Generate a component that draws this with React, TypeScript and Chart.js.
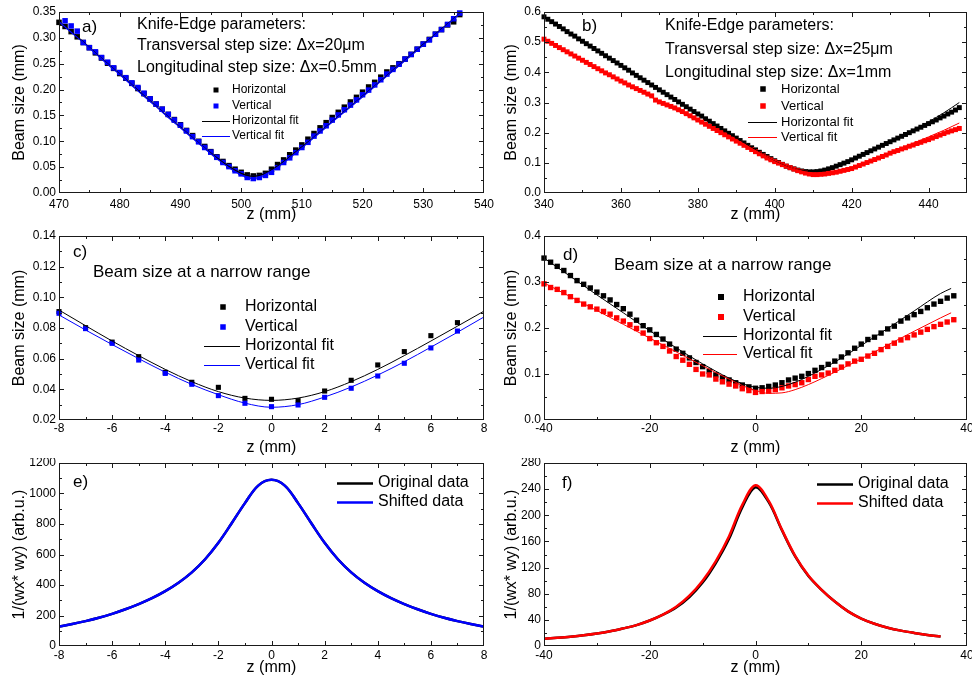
import React, { useEffect, useRef } from 'react';
import { Chart, registerables } from 'chart.js';

Chart.register(...registerables);

const FONT = "'Liberation Sans', Arial, Helvetica, sans-serif";
const BLACK = '#000000';
const BLUE = '#0000ff';
const RED = '#ff0000';

// ---------------- Panel a ----------------
const aZ = [470,471,472,473,474,475,476,477,478,479,480,481,482,483,484,485,486,487,488,489,490,491,492,493,494,495,496,497,498,499,500,501,502,503,504,505,506,507,508,509,510,511,512,513,514,515,516,517,518,519,520,521,522,523,524,525,526,527,528,529,530,531,532,533,534,535,536];
const aHorizontal = [0.330,0.322,0.312,0.302,0.291,0.281,0.271,0.261,0.251,0.241,0.231,0.222,0.212,0.202,0.192,0.182,0.172,0.162,0.152,0.142,0.132,0.121,0.111,0.100,0.090,0.080,0.070,0.061,0.053,0.046,0.040,0.035,0.033,0.034,0.038,0.046,0.055,0.064,0.074,0.083,0.093,0.104,0.115,0.126,0.136,0.146,0.156,0.166,0.176,0.185,0.195,0.205,0.214,0.224,0.234,0.242,0.250,0.259,0.268,0.278,0.288,0.297,0.307,0.316,0.325,0.331,0.345];
const aVertical = [null,0.333,0.323,0.313,0.291,0.281,0.273,0.262,0.253,0.242,0.233,0.223,0.213,0.204,0.193,0.182,0.172,0.162,0.152,0.141,0.131,0.120,0.109,0.099,0.088,0.079,0.069,0.059,0.051,0.043,0.037,0.030,0.028,0.030,0.034,0.040,0.049,0.059,0.068,0.078,0.088,0.098,0.110,0.120,0.130,0.141,0.151,0.161,0.170,0.180,0.190,0.199,0.209,0.219,0.230,0.239,0.249,0.259,0.268,0.278,0.288,0.296,0.307,0.316,0.326,0.337,0.348];
const aFitZ = [470,472,474,476,478,480,482,484,486,488,490,492,494,496,498,500,501,502,503,504,506,508,510,512,514,516,518,520,522,524,526,528,530,532,534,536,538];
const aHorizontalFit = [0.332,0.312,0.292,0.271,0.250,0.230,0.209,0.188,0.168,0.147,0.127,0.107,0.087,0.068,0.051,0.038,0.034,0.032,0.034,0.038,0.052,0.070,0.089,0.108,0.128,0.148,0.167,0.187,0.207,0.227,0.247,0.267,0.287,0.307,0.327,0.347,0.367];
const aVerticalFit = [0.331,0.311,0.291,0.270,0.249,0.229,0.208,0.187,0.167,0.146,0.126,0.106,0.086,0.066,0.049,0.035,0.030,0.028,0.030,0.036,0.050,0.068,0.087,0.107,0.127,0.147,0.166,0.186,0.206,0.226,0.246,0.266,0.286,0.306,0.326,0.346,0.366];
const aXTicks = [470,480,490,500,510,520,530,540];
const aYTicks = [0,0.05,0.1,0.15,0.2,0.25,0.3,0.35];

// ---------------- Panel b ----------------
const bZ = [340,341,342,343,344,345,346,347,348,349,350,351,352,353,354,355,356,357,358,359,360,361,362,363,364,365,366,367,368,369,370,371,372,373,374,375,376,377,378,379,380,381,382,383,384,385,386,387,388,389,390,391,392,393,394,395,396,397,398,399,400,401,402,403,404,405,406,407,408,409,410,411,412,413,414,415,416,417,418,419,420,421,422,423,424,425,426,427,428,429,430,431,432,433,434,435,436,437,438,439,440,441,442,443,444,445,446,447,448];
const bHorizontal = [
  0.584,0.576,0.568,0.560,0.552,0.544,0.535,0.527,0.520,0.511,
  0.503,0.495,0.487,0.479,0.471,0.463,0.455,0.447,0.439,0.431,
  0.423,0.415,0.407,0.398,0.390,0.382,0.374,0.366,0.358,0.350,
  0.342,0.334,0.326,0.318,0.310,0.302,0.294,0.286,0.278,0.270,
  0.262,0.255,0.246,0.238,0.230,0.222,0.214,0.206,0.198,0.190,
  0.182,0.174,0.166,0.158,0.150,0.143,0.135,0.128,0.121,0.114,
  0.107,0.101,0.095,0.089,0.084,0.080,0.076,0.073,0.071,0.070,
  0.070,0.071,0.073,0.076,0.080,0.084,0.089,0.094,0.099,0.104,
  0.110,0.116,0.122,0.128,0.134,0.140,0.146,0.152,0.158,0.164,
  0.170,0.176,0.182,0.188,0.194,0.200,0.206,0.212,0.218,0.224,
  0.230,0.236,0.242,0.249,0.255,0.262,0.268,0.275,0.283];
const bVertical = [
  0.510,0.503,0.496,0.489,0.482,0.475,0.468,0.461,0.454,0.447,
  0.440,0.433,0.426,0.419,0.412,0.405,0.398,0.392,0.385,0.378,
  0.371,0.365,0.358,0.352,0.346,0.340,0.334,0.328,0.322,0.308,
  0.302,0.297,0.292,0.287,0.282,0.276,0.270,0.263,0.256,0.249,
  0.242,0.235,0.228,0.221,0.214,0.207,0.200,0.193,0.186,0.179,
  0.172,0.165,0.158,0.151,0.144,0.137,0.130,0.123,0.116,0.110,
  0.104,0.099,0.094,0.089,0.084,0.079,0.074,0.070,0.066,0.063,
  0.061,0.061,0.062,0.063,0.065,0.067,0.069,0.072,0.075,0.078,
  0.081,0.086,0.091,0.096,0.101,0.106,0.111,0.116,0.121,0.126,
  0.132,0.137,0.141,0.146,0.150,0.155,0.159,0.164,0.168,0.173,
  0.177,0.182,0.187,0.192,0.197,0.202,0.206,0.210,0.214];
const bFitZ = [340,344,348,352,356,360,364,368,372,376,380,384,388,392,396,400,402,404,406,408,410,412,414,416,418,420,424,428,432,436,440,444,448];
const bHorizontalFit = [0.584,0.552,0.519,0.487,0.455,0.423,0.390,0.358,0.326,0.294,0.262,0.230,0.198,0.167,0.136,0.108,0.096,0.086,0.078,0.073,0.071,0.072,0.077,0.085,0.095,0.106,0.130,0.156,0.182,0.209,0.236,0.266,0.300];
const bVerticalFit = [0.510,0.482,0.454,0.426,0.398,0.371,0.344,0.317,0.290,0.264,0.238,0.212,0.186,0.160,0.134,0.109,0.097,0.086,0.077,0.070,0.066,0.065,0.067,0.072,0.078,0.085,0.104,0.124,0.144,0.165,0.186,0.208,0.232];
const bXTicks = [340,360,380,400,420,440];
const bYTicks = [0,0.1,0.2,0.3,0.4,0.5,0.6];

// ---------------- Panel c ----------------
const cZ = [-8,-7,-6,-5,-4,-3,-2,-1,0,1,2,3,4,5,6,7];
const cHorizontal = [0.0907,0.0802,0.0708,0.0613,0.0511,0.0446,0.0413,0.0341,0.0335,0.0326,0.0389,0.0459,0.0559,0.0646,0.0750,0.0835];
const cVertical = [0.0896,0.0796,0.0700,0.0591,0.0504,0.0433,0.0359,0.0309,0.0287,0.0298,0.0348,0.0407,0.0487,0.0570,0.0670,0.0780];
const cFitZ = [-8,-7,-6,-5,-4,-3,-2,-1,0,1,2,3,4,5,6,7,8];
const cHorizontalFit = [0.0917,0.0815,0.0715,0.0620,0.0530,0.0450,0.0385,0.0343,0.0328,0.0343,0.0385,0.0450,0.0530,0.0620,0.0715,0.0812,0.0910];
const cVerticalFit = [0.0885,0.0787,0.0692,0.0600,0.0512,0.0432,0.0365,0.0310,0.0283,0.0300,0.0350,0.0415,0.0493,0.0580,0.0675,0.0772,0.0872];
const cXTicks = [-8,-6,-4,-2,0,2,4,6,8];
const cYTicks = [0.02,0.04,0.06,0.08,0.1,0.12,0.14];

// ---------------- Panel d ----------------
const dZ = [-40,-38.75,-37.5,-36.25,-35,-33.75,-32.5,-31.25,-30,-28.75,-27.5,-26.25,-25,-23.75,-22.5,-21.25,-20,-18.75,-17.5,-16.25,-15,-13.75,-12.5,-11.25,-10,-8.75,-7.5,-6.25,-5,-3.75,-2.5,-1.25,0,1.25,2.5,3.75,5,6.25,7.5,8.75,10,11.25,12.5,13.75,15,16.25,17.5,18.75,20,21.25,22.5,23.75,25,26.25,27.5,28.75,30,31.25,32.5,33.75,35,36.25,37.5];
const dHorizontal = [0.352,0.343,0.334,0.325,0.314,0.303,0.295,0.287,0.278,0.270,0.261,0.251,0.242,0.230,0.217,0.205,0.196,0.186,0.176,0.165,0.154,0.145,0.135,0.125,0.116,0.106,0.098,0.092,0.087,0.081,0.076,0.072,0.069,0.070,0.073,0.076,0.081,0.087,0.091,0.095,0.101,0.108,0.114,0.121,0.128,0.137,0.146,0.156,0.165,0.175,0.180,0.189,0.198,0.204,0.215,0.222,0.229,0.236,0.244,0.252,0.258,0.265,0.270];
const dVertical = [0.296,0.288,0.284,0.277,0.268,0.260,0.252,0.246,0.241,0.236,0.230,0.222,0.215,0.207,0.199,0.189,0.177,0.168,0.160,0.150,0.138,0.130,0.121,0.110,0.100,0.098,0.089,0.083,0.078,0.074,0.068,0.064,0.060,0.062,0.063,0.066,0.070,0.074,0.077,0.081,0.088,0.095,0.098,0.102,0.108,0.115,0.122,0.128,0.132,0.139,0.145,0.153,0.160,0.167,0.174,0.179,0.185,0.191,0.197,0.203,0.208,0.213,0.218];
const dFitZ = [-40,-35,-30,-25,-20,-15,-10,-7.5,-5,-2.5,0,2.5,5,7.5,10,12.5,15,20,25,30,35,37];
const dHorizontalFit = [0.352,0.312,0.272,0.233,0.194,0.157,0.122,0.106,0.091,0.079,0.071,0.069,0.073,0.082,0.095,0.110,0.126,0.162,0.199,0.237,0.275,0.286];
const dVerticalFit = [0.298,0.268,0.238,0.208,0.178,0.148,0.118,0.103,0.089,0.075,0.064,0.058,0.059,0.066,0.077,0.090,0.104,0.133,0.163,0.193,0.222,0.233];
const dXTicks = [-40,-20,0,20,40];
const dYTicks = [0,0.1,0.2,0.3,0.4];

// ---------------- Panel e ----------------
const eZ = [-8,-7.5,-7,-6.5,-6,-5.5,-5,-4.5,-4,-3.5,-3,-2.5,-2,-1.5,-1,-0.5,0,0.5,1,1.5,2,2.5,3,3.5,4,4.5,5,5.5,6,6.5,7,7.5,8];
const eOriginal = [127,144,163,185,211,241,275,314,360,415,483,569,677,805,937,1052,1090,1052,937,805,677,569,483,415,360,314,275,241,211,185,163,144,127];
const eShifted = [127,144,163,185,211,241,275,314,360,415,483,569,677,805,937,1052,1090,1052,937,805,677,569,483,415,360,314,275,241,211,185,163,144,127];
const eXTicks = [-8,-6,-4,-2,0,2,4,6,8];
const eYTicks = [0,200,400,600,800,1000,1200];

// ---------------- Panel f ----------------
const fZ = [-40,-37.5,-35,-32.5,-30,-27.5,-25,-22.5,-20,-17.5,-15,-12.5,-10,-7.5,-5,-2.5,0,2.5,5,7.5,10,12.5,15,17.5,20,22.5,25,27.5,30,32.5,35];
const fOriginal = [11,12.5,14.2,16.3,19,22.5,27,32,39,48,59,75,97,127,164,212,243,220,177,137,107,86,68,53,42,34,28,23.5,20,17,14.5];
const fShifted = [11,12.5,14.2,16.3,19,22.5,27,32,39,48,60,77,100,130,168,216,246,222,178,138,108,86,68,53,42,34,28,23.5,20,17,14.5];
const fXTicks = [-40,-20,0,20,40];
const fYTicks = [0,40,80,120,160,200,240,280];

// ---------------- types ----------------
type Series = {
  label: string; xs: number[]; ys: (number | null)[]; color: string;
  kind: 'points' | 'line'; width?: number; radius?: number; order: number; smooth?: 'monotone' | 'tension';
};
type TextItem = { text: string; x: number; y: number; size: number };
type LegendItem = { kind: 'square' | 'line'; color: string; text: string; x: number; y: number; x2?: number; textX: number; size?: number; lw?: number };
type PanelSpec = {
  left: number; top: number; width: number; height: number;
  plot: { left: number; top: number; right: number; bottom: number };
  xMin: number; xMax: number; yMin: number; yMax: number;
  xTicks: number[]; yTicks: number[]; xMinor: number; yMinor: number; yDecimals: number;
  xTitle: string; yTitle: string; yTitlePad: number; xTitlePad: number; xTickPad: number;
  series: Series[]; texts: TextItem[]; legend: LegendItem[]; legendFont: number;
};

function stepValues(min: number, max: number, step: number) {
  const out: number[] = [];
  const n = Math.round((max - min) / step);
  for (let k = 0; k <= n; k++) out.push(min + k * step);
  return out;
}

function makeDeco(spec: PanelSpec) {
  return {
    id: 'deco',
    afterDraw(chart: any) {
      const { ctx, chartArea: ca, scales } = chart;
      const xs = scales.x, ys = scales.y;
      ctx.save();
      ctx.strokeStyle = '#1a1a1a';
      ctx.lineWidth = 1;
      ctx.strokeRect(Math.round(ca.left) + 0.5, Math.round(ca.top) + 0.5, Math.round(ca.right - ca.left) - 1, Math.round(ca.bottom - ca.top) - 1);
      const near = (a: number, arr: number[]) => arr.some(b => Math.abs(a - b) < 1e-9);
      ctx.beginPath();
      const xMinorVals = stepValues(spec.xMin, spec.xMax, spec.xMinor);
      const yMinorVals = stepValues(spec.yMin, spec.yMax, spec.yMinor);
      const xAll = [...spec.xTicks.map(v => [v, 5]), ...xMinorVals.filter(v => !near(v, spec.xTicks)).map(v => [v, 3])];
      const yAll = [...spec.yTicks.map(v => [v, 5]), ...yMinorVals.filter(v => !near(v, spec.yTicks)).map(v => [v, 3])];
      for (const [v, len] of xAll) {
        const px = Math.round(xs.getPixelForValue(v)) + 0.5;
        if (px <= ca.left + 1 || px >= ca.right - 1) continue;
        ctx.moveTo(px, ca.bottom); ctx.lineTo(px, ca.bottom - len);
        ctx.moveTo(px, ca.top); ctx.lineTo(px, ca.top + len);
      }
      for (const [v, len] of yAll) {
        const py = Math.round(ys.getPixelForValue(v)) + 0.5;
        if (py <= ca.top + 1 || py >= ca.bottom - 1) continue;
        ctx.moveTo(ca.left, py); ctx.lineTo(ca.left + len, py);
        ctx.moveTo(ca.right, py); ctx.lineTo(ca.right - len, py);
      }
      ctx.stroke();

      ctx.fillStyle = '#000';
      ctx.textAlign = 'left';
      ctx.textBaseline = 'middle';
      for (const t of spec.texts) {
        ctx.font = `${t.size}px ${FONT}`;
        ctx.fillText(t.text, t.x, t.y);
      }
      ctx.font = `${spec.legendFont}px ${FONT}`;
      for (const it of spec.legend) {
        if (it.kind === 'square') {
          const s = it.size ?? 5;
          ctx.fillStyle = it.color;
          ctx.fillRect(it.x - s / 2, it.y - s / 2, s, s);
        } else {
          ctx.strokeStyle = it.color;
          ctx.lineWidth = it.lw ?? 1;
          ctx.beginPath();
          ctx.moveTo(it.x, it.y + 0.5);
          ctx.lineTo(it.x2 ?? it.x, it.y + 0.5);
          ctx.stroke();
        }
        ctx.fillStyle = '#000';
        ctx.fillText(it.text, it.textX, it.y);
      }
      ctx.restore();
    },
  };
}

function buildConfig(spec: PanelSpec): any {
  const { plot, width, height } = spec;
  return {
    type: 'scatter',
    data: {
      datasets: spec.series.map(s => ({
        label: s.label,
        data: s.xs.map((x, i) => ({ x, y: s.ys[i] })).filter(p => p.y !== null && p.y !== undefined),
        showLine: s.kind === 'line',
        borderColor: s.color,
        backgroundColor: s.color,
        borderWidth: s.width ?? 1,
        pointRadius: s.kind === 'points' ? (s.radius ?? 3.6) : 0,
        pointHoverRadius: 0,
        pointStyle: 'rect',
        pointBorderWidth: 0,
        pointBackgroundColor: s.color,
        cubicInterpolationMode: s.smooth === 'tension' ? 'default' : 'monotone',
        tension: s.smooth === 'tension' ? 0.35 : 0,
        order: s.order,
        clip: s.kind === 'points' ? 6 : 0,
      })),
    },
    options: {
      responsive: false,
      maintainAspectRatio: false,
      animation: false,
      devicePixelRatio: 1,
      events: [],
      layout: { padding: { left: 0, top: plot.top, right: width - plot.right, bottom: 0 } },
      plugins: { legend: { display: false }, tooltip: { enabled: false } },
      scales: {
        x: {
          type: 'linear',
          min: spec.xMin,
          max: spec.xMax,
          grid: { display: false, drawTicks: false },
          border: { display: false },
          ticks: {
            font: { family: FONT, size: 12 },
            color: '#000',
            padding: spec.xTickPad,
            maxRotation: 0,
            autoSkip: false,
            callback: (v: number) => String(v),
          },
          afterBuildTicks: (s: any) => { s.ticks = spec.xTicks.map(v => ({ value: v })); },
          afterFit: (s: any) => { s.height = height - plot.bottom; s.paddingLeft = 0; s.paddingRight = 0; },
          title: { display: true, text: spec.xTitle, font: { family: FONT, size: 16 }, color: '#000', padding: { top: 0, bottom: spec.xTitlePad } },
        },
        y: {
          type: 'linear',
          min: spec.yMin,
          max: spec.yMax,
          grid: { display: false, drawTicks: false },
          border: { display: false },
          ticks: {
            font: { family: FONT, size: 12 },
            color: '#000',
            padding: 3,
            autoSkip: false,
            callback: (v: number) => Number(v).toFixed(spec.yDecimals),
          },
          afterBuildTicks: (s: any) => { s.ticks = spec.yTicks.map(v => ({ value: v })); },
          afterFit: (s: any) => { s.width = plot.left; s.paddingTop = 0; s.paddingBottom = 0; },
          title: { display: true, text: spec.yTitle, font: { family: FONT, size: 16 }, color: '#000', padding: { top: spec.yTitlePad, bottom: 0 } },
        },
      },
    },
    plugins: [makeDeco(spec)],
  };
}

function Panel({ spec }: { spec: PanelSpec }) {
  const ref = useRef<HTMLCanvasElement>(null);
  useEffect(() => {
    const canvas = ref.current;
    if (!canvas) return;
    const chart = new Chart(canvas, buildConfig(spec));
    return () => chart.destroy();
  }, [spec]);
  return (
    <canvas
      ref={ref}
      width={spec.width}
      height={spec.height}
      style={{ position: 'absolute', left: spec.left, top: spec.top, width: spec.width, height: spec.height }}
    />
  );
}

const LEFT = { left: 0, width: 500 };
const RIGHT = { left: 490, width: 482 };

const panels: PanelSpec[] = [
  {
    ...LEFT, top: 0, height: 226,
    plot: { left: 59, top: 12, right: 484, bottom: 193 },
    xMin: 470, xMax: 540, yMin: 0, yMax: 0.35,
    xTicks: aXTicks, yTicks: aYTicks, xMinor: 5, yMinor: 0.025, yDecimals: 2,
    xTitle: 'z (mm)', yTitle: 'Beam size (mm)', yTitlePad: 10.4, xTitlePad: 1.4, xTickPad: 4,
    series: [
      { label: 'Horizontal', xs: aZ, ys: aHorizontal, color: BLACK, kind: 'points', radius: 3.9, order: 4 },
      { label: 'Vertical', xs: aZ, ys: aVertical, color: BLUE, kind: 'points', radius: 3.9, order: 3 },
      { label: 'Horizontal fit', xs: aFitZ, ys: aHorizontalFit, color: BLACK, kind: 'line', width: 1.2, order: 2 },
      { label: 'Vertical fit', xs: aFitZ, ys: aVerticalFit, color: BLUE, kind: 'line', width: 1.2, order: 1 },
    ],
    texts: [
      { text: 'a)', x: 82, y: 27, size: 17 },
      { text: 'Knife-Edge parameters:', x: 137, y: 25, size: 16 },
      { text: 'Transversal step size: \u0394x=20\u03bcm', x: 137, y: 46, size: 16 },
      { text: 'Longitudinal step size: \u0394x=0.5mm', x: 137, y: 68, size: 16 },
    ],
    legendFont: 12,
    legend: [
      { kind: 'square', color: BLACK, text: 'Horizontal', x: 216, y: 90, textX: 232, size: 5 },
      { kind: 'square', color: BLUE, text: 'Vertical', x: 216, y: 106, textX: 232, size: 5 },
      { kind: 'line', color: BLACK, text: 'Horizontal fit', x: 202, x2: 230, y: 121, textX: 232 },
      { kind: 'line', color: BLUE, text: 'Vertical fit', x: 202, x2: 230, y: 136, textX: 232 },
    ],
  },
  {
    ...RIGHT, top: 0, height: 226,
    plot: { left: 54, top: 12, right: 477, bottom: 193 },
    xMin: 340, xMax: 450, yMin: 0, yMax: 0.6,
    xTicks: bXTicks, yTicks: bYTicks, xMinor: 10, yMinor: 0.05, yDecimals: 1,
    xTitle: 'z (mm)', yTitle: 'Beam size (mm)', yTitlePad: 12.4, xTitlePad: 1.4, xTickPad: 4,
    series: [
      { label: 'Horizontal', xs: bZ, ys: bHorizontal, color: BLACK, kind: 'points', radius: 3.5, order: 4 },
      { label: 'Vertical', xs: bZ, ys: bVertical, color: RED, kind: 'points', radius: 3.5, order: 3 },
      { label: 'Horizontal fit', xs: bFitZ, ys: bHorizontalFit, color: BLACK, kind: 'line', width: 1, order: 2 },
      { label: 'Vertical fit', xs: bFitZ, ys: bVerticalFit, color: RED, kind: 'line', width: 1, order: 1 },
    ],
    texts: [
      { text: 'b)', x: 92, y: 26, size: 17 },
      { text: 'Knife-Edge parameters:', x: 175, y: 26, size: 16 },
      { text: 'Transversal step size: \u0394x=25\u03bcm', x: 175, y: 50, size: 16 },
      { text: 'Longitudinal step size: \u0394x=1mm', x: 175, y: 73, size: 16 },
    ],
    legendFont: 13,
    legend: [
      { kind: 'square', color: BLACK, text: 'Horizontal', x: 273, y: 89, textX: 291, size: 5.5 },
      { kind: 'square', color: RED, text: 'Vertical', x: 273, y: 106, textX: 291, size: 5.5 },
      { kind: 'line', color: BLACK, text: 'Horizontal fit', x: 258, x2: 287, y: 122, textX: 291 },
      { kind: 'line', color: RED, text: 'Vertical fit', x: 258, x2: 287, y: 137, textX: 291 },
    ],
  },
  {
    ...LEFT, top: 226, height: 232,
    plot: { left: 59, top: 10, right: 484, bottom: 194 },
    xMin: -8, xMax: 8, yMin: 0.02, yMax: 0.14,
    xTicks: cXTicks, yTicks: cYTicks, xMinor: 1, yMinor: 0.01, yDecimals: 2,
    xTitle: 'z (mm)', yTitle: 'Beam size (mm)', yTitlePad: 10.4, xTitlePad: 0.4, xTickPad: 1,
    series: [
      { label: 'Horizontal', xs: cZ, ys: cHorizontal, color: BLACK, kind: 'points', radius: 3.6, order: 4 },
      { label: 'Vertical', xs: cZ, ys: cVertical, color: BLUE, kind: 'points', radius: 3.6, order: 3 },
      { label: 'Horizontal fit', xs: cFitZ, ys: cHorizontalFit, color: BLACK, kind: 'line', width: 1, order: 2 },
      { label: 'Vertical fit', xs: cFitZ, ys: cVerticalFit, color: BLUE, kind: 'line', width: 1, order: 1 },
    ],
    texts: [
      { text: 'c)', x: 73, y: 26, size: 17 },
      { text: 'Beam size at a narrow range', x: 93, y: 46, size: 17 },
    ],
    legendFont: 16,
    legend: [
      { kind: 'square', color: BLACK, text: 'Horizontal', x: 223, y: 81, textX: 245, size: 5.5 },
      { kind: 'square', color: BLUE, text: 'Vertical', x: 223, y: 101, textX: 245, size: 5.5 },
      { kind: 'line', color: BLACK, text: 'Horizontal fit', x: 204, x2: 240, y: 120, textX: 245 },
      { kind: 'line', color: BLUE, text: 'Vertical fit', x: 204, x2: 240, y: 139, textX: 245 },
    ],
  },
  {
    ...RIGHT, top: 226, height: 232,
    plot: { left: 54, top: 10, right: 477, bottom: 194 },
    xMin: -40, xMax: 40, yMin: 0, yMax: 0.4,
    xTicks: dXTicks, yTicks: dYTicks, xMinor: 10, yMinor: 0.05, yDecimals: 1,
    xTitle: 'z (mm)', yTitle: 'Beam size (mm)', yTitlePad: 12.4, xTitlePad: 0.4, xTickPad: 1,
    series: [
      { label: 'Horizontal', xs: dZ, ys: dHorizontal, color: BLACK, kind: 'points', radius: 3.8, order: 4 },
      { label: 'Vertical', xs: dZ, ys: dVertical, color: RED, kind: 'points', radius: 3.8, order: 3 },
      { label: 'Horizontal fit', xs: dFitZ, ys: dHorizontalFit, color: BLACK, kind: 'line', width: 1, order: 2 },
      { label: 'Vertical fit', xs: dFitZ, ys: dVerticalFit, color: RED, kind: 'line', width: 1, order: 1 },
    ],
    texts: [
      { text: 'd)', x: 73, y: 29, size: 17 },
      { text: 'Beam size at a narrow range', x: 124, y: 39, size: 17 },
    ],
    legendFont: 16,
    legend: [
      { kind: 'square', color: BLACK, text: 'Horizontal', x: 231, y: 71, textX: 253, size: 6 },
      { kind: 'square', color: RED, text: 'Vertical', x: 231, y: 91, textX: 253, size: 6 },
      { kind: 'line', color: BLACK, text: 'Horizontal fit', x: 213, x2: 247, y: 110, textX: 253 },
      { kind: 'line', color: RED, text: 'Vertical fit', x: 213, x2: 247, y: 128, textX: 253 },
    ],
  },
  {
    ...LEFT, top: 458, height: 221,
    plot: { left: 59, top: 5, right: 484, bottom: 188 },
    xMin: -8, xMax: 8, yMin: 0, yMax: 1200,
    xTicks: eXTicks, yTicks: eYTicks, xMinor: 1, yMinor: 100, yDecimals: 0,
    xTitle: 'z (mm)', yTitle: '1/(wx* wy) (arb.u.)', yTitlePad: 10.4, xTitlePad: 1.4, xTickPad: 2,
    series: [
      { label: 'Original data', xs: eZ, ys: eOriginal, color: BLACK, kind: 'line', width: 2.5, order: 2, smooth: 'tension' },
      { label: 'Shifted data', xs: eZ, ys: eShifted, color: BLUE, kind: 'line', width: 2.5, order: 1, smooth: 'tension' },
    ],
    texts: [{ text: 'e)', x: 73, y: 24, size: 17 }],
    legendFont: 16,
    legend: [
      { kind: 'line', color: BLACK, text: 'Original data', x: 337, x2: 373, y: 25, textX: 378, lw: 2.5 },
      { kind: 'line', color: BLUE, text: 'Shifted data', x: 337, x2: 373, y: 44, textX: 378, lw: 2.5 },
    ],
  },
  {
    ...RIGHT, top: 458, height: 221,
    plot: { left: 54, top: 5, right: 477, bottom: 188 },
    xMin: -40, xMax: 40, yMin: 0, yMax: 280,
    xTicks: fXTicks, yTicks: fYTicks, xMinor: 10, yMinor: 20, yDecimals: 0,
    xTitle: 'z (mm)', yTitle: '1/(wx* wy) (arb.u.)', yTitlePad: 12.4, xTitlePad: 1.4, xTickPad: 2,
    series: [
      { label: 'Original data', xs: fZ, ys: fOriginal, color: BLACK, kind: 'line', width: 2.5, order: 2, smooth: 'tension' },
      { label: 'Shifted data', xs: fZ, ys: fShifted, color: RED, kind: 'line', width: 2.5, order: 1, smooth: 'tension' },
    ],
    texts: [{ text: 'f)', x: 72, y: 25, size: 17 }],
    legendFont: 16,
    legend: [
      { kind: 'line', color: BLACK, text: 'Original data', x: 327, x2: 363, y: 26, textX: 368, lw: 2.5 },
      { kind: 'line', color: RED, text: 'Shifted data', x: 327, x2: 363, y: 45, textX: 368, lw: 2.5 },
    ],
  },
];

export default function App() {
  return (
    <div style={{ position: 'absolute', left: 0, top: 0, width: 972, height: 679, background: '#ffffff', overflow: 'hidden' }}>
      {panels.map((p, i) => <Panel key={i} spec={p} />)}
    </div>
  );
}
